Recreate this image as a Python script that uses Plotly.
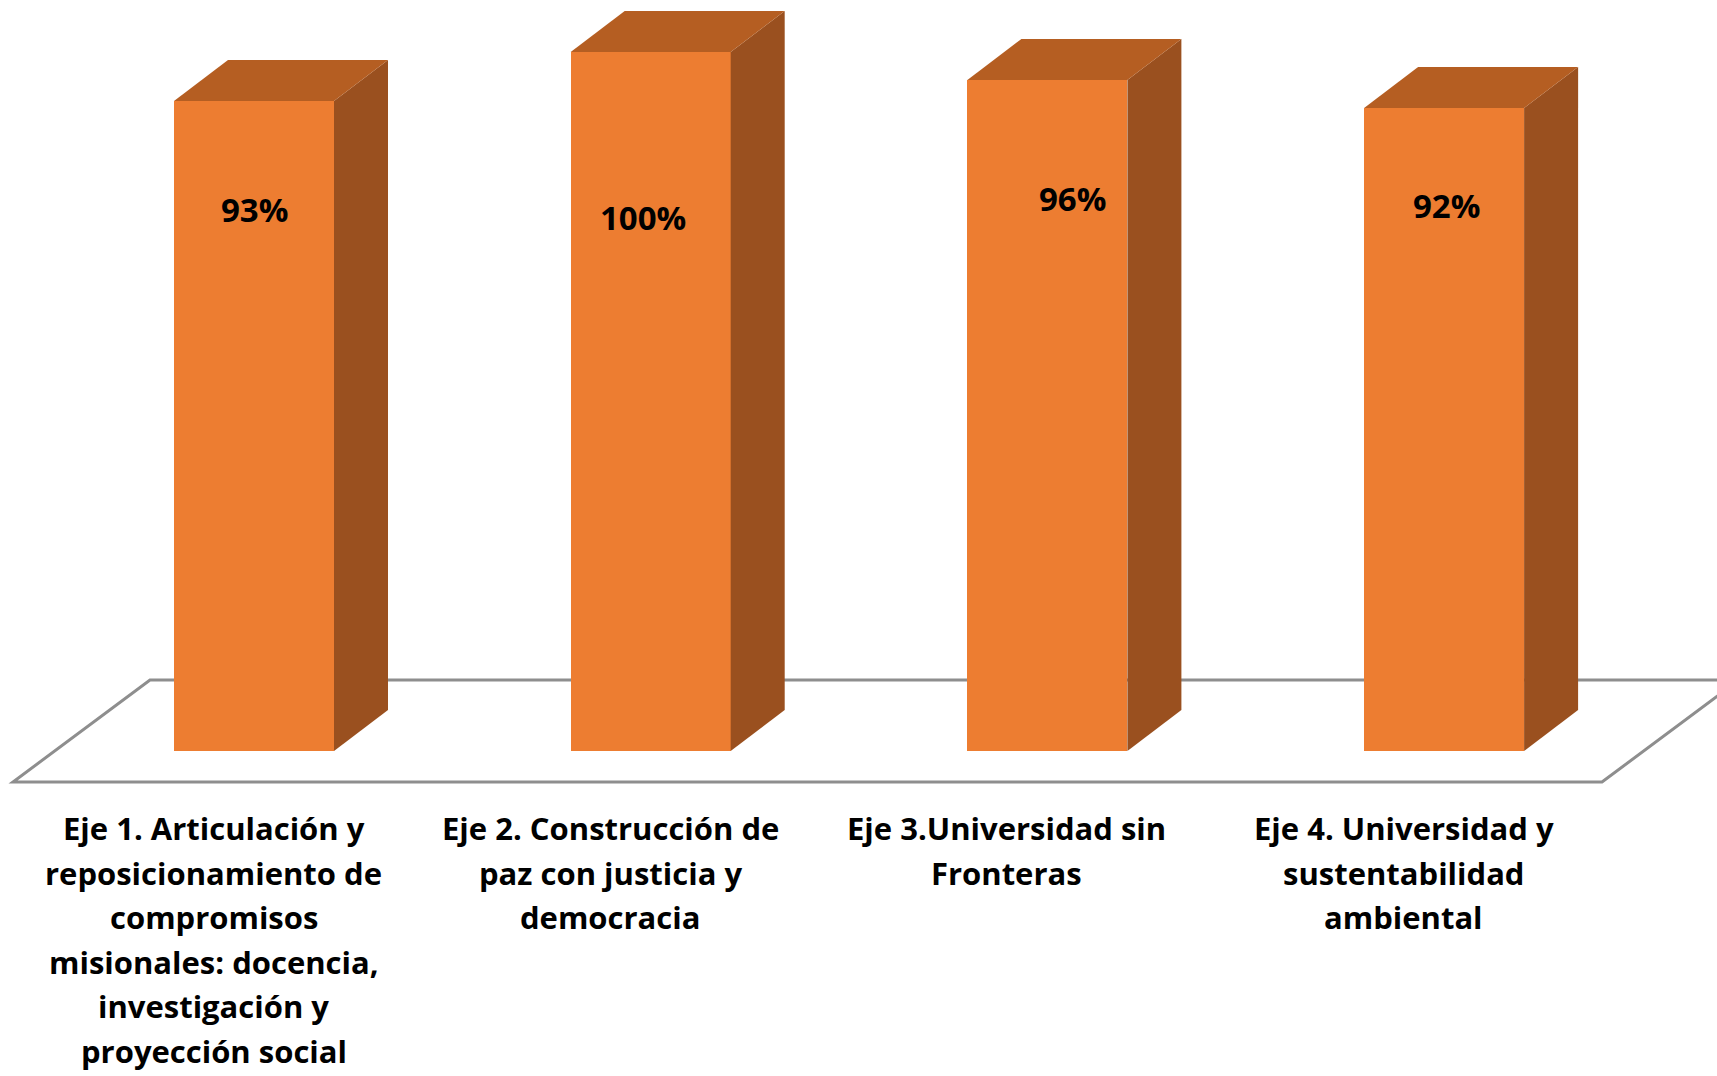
import plotly.graph_objects as go

# ---- data ----
categories = [
    "Eje 1. Articulación y\nreposicionamiento de\ncompromisos\nmisionales: docencia,\ninvestigación y\nproyección social",
    "Eje 2. Construcción de\npaz con justicia y\ndemocracia",
    "Eje 3.Universidad sin\nFronteras",
    "Eje 4. Universidad y\nsustentabilidad\nambiental",
]
values = [93, 100, 96, 92]
value_labels = ["93%", "100%", "96%", "92%"]

# ---- geometry / style (not data) ----
W, H = 1717, 1076
X0_PX, X_UNIT = 254.0, 396.7          # pixel of category 0, pixels per category
Y0_PX, Y_UNIT = 751.0, 6.99           # pixel of 0 %, pixels per %
BAR_W = 160 / X_UNIT
DX = 54 / X_UNIT
DY = 41 / Y_UNIT
label_dx = [0.0, -0.02, 0.062, 0.007]      # label offsets (category units)
label_dy = [-15.6, -23.7, -16.9, -14.0]    # label offsets (percent units)
CAT_DX = -0.102
CAT_TOP_PX, CAT_LINE_PX = 828, 44.6

FRONT = "#ED7D31"
TOP = "#B55E22"
SIDE = "#9A501F"
FLOOR = "#8E8E8E"
FONT = "Open Sans"

xr = [-X0_PX / X_UNIT, (W - X0_PX) / X_UNIT]
yr = [-(H - Y0_PX) / Y_UNIT, Y0_PX / Y_UNIT]


def py(px):
    return (Y0_PX - px) / Y_UNIT


fig = go.Figure()
xs = list(range(len(values)))

# side and top faces
for i, v in zip(xs, values):
    r = i + BAR_W / 2
    l = i - BAR_W / 2
    fig.add_trace(go.Scatter(
        x=[r, r + DX, r + DX, r, r], y=[0, DY, v + DY, v, 0],
        fill="toself", fillcolor=SIDE, mode="lines", line=dict(width=0, color=SIDE),
        hoverinfo="skip", showlegend=False))
    fig.add_trace(go.Scatter(
        x=[l, l + DX, r + DX, r, l], y=[v, v + DY, v + DY, v, v],
        fill="toself", fillcolor=TOP, mode="lines", line=dict(width=0, color=TOP),
        hoverinfo="skip", showlegend=False))

# front faces
fig.add_trace(go.Bar(x=xs, y=values, width=BAR_W, marker=dict(color=FRONT, line=dict(width=0)),
                     hoverinfo="skip", showlegend=False))

# floor
fy_front, fy_back = py(782), py(680)
fx_left = (13 - X0_PX) / X_UNIT
fx_right = (1602 - X0_PX) / X_UNIT
fdx = (150 - 13) / X_UNIT
fig.add_shape(type="path", xref="x", yref="y", layer="below",
              path=f"M {fx_left},{fy_front} L {fx_right},{fy_front} L {fx_right + fdx},{fy_back} "
                   f"L {fx_left + fdx},{fy_back} Z",
              line=dict(color=FLOOR, width=3), fillcolor="white")

# value labels
for i, v, t, ddx, ddy in zip(xs, values, value_labels, label_dx, label_dy):
    fig.add_annotation(x=i + ddx, y=v + ddy, text=t, showarrow=False,
                       font=dict(family=FONT, size=33, color="black", weight="bold"),
                       xanchor="center", yanchor="middle")

# category labels
for i, cat in zip(xs, categories):
    for k, line in enumerate(cat.split("\n")):
        fig.add_annotation(x=i + CAT_DX, y=py(CAT_TOP_PX + CAT_LINE_PX * k), text=line,
                           showarrow=False,
                           font=dict(family=FONT, size=31, color="black", weight="bold"),
                           xanchor="center", yanchor="middle")

fig.update_layout(
    width=W, height=H, margin=dict(l=0, r=0, t=0, b=0),
    paper_bgcolor="white", plot_bgcolor="white", bargap=0,
    xaxis=dict(range=xr, visible=False, fixedrange=True),
    yaxis=dict(range=yr, visible=False, fixedrange=True),
    showlegend=False,
)
fig.write_html("out.html", config={"displayModeBar": False},
               post_script="document.body.style.margin='0';document.body.style.overflow='hidden';")
